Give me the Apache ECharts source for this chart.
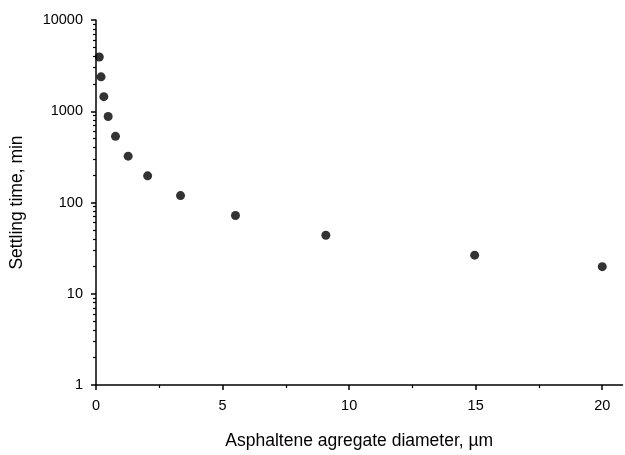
<!DOCTYPE html>
<html>
<head>
<meta charset="utf-8">
<script src="https://cdn.jsdelivr.net/npm/echarts@6/dist/echarts.min.js"></script>
<style>html,body{margin:0;padding:0;background:#fff}#c{width:625px;height:455px}</style>
</head>
<body>
<div id="c"></div>
<script>
// Data
const diameter = [0.13, 0.2, 0.31, 0.48, 0.77, 1.27, 2.04, 3.34, 5.51, 9.08, 14.96, 20.0];
const settlingTime = [3935, 2384, 1445, 877, 531, 322, 196, 119, 72, 43.7, 26.5, 19.8];
const xTickLabels = [0, 5, 10, 15, 20];
const xMinorTicks = [2.5, 7.5, 12.5, 17.5];
const yTickLabels = [1, 10, 100, 1000, 10000];
const yMinorTicks = [];
for (let d = 0; d < 4; d++) for (let k = 2; k <= 9; k++) yMinorTicks.push(k * Math.pow(10, d));

const font = 'Liberation Sans, Arial, sans-serif';
const chart = echarts.init(document.getElementById('c'), null, {renderer: 'canvas'});
const points = diameter.map((x, i) => [x, settlingTime[i]]);
chart.setOption({
  animation: false,
  backgroundColor: '#ffffff',
  grid: {left: 94.5, top: 20, width: 528, height: 368, containLabel: false},
  xAxis: [{
    type: 'value', min: 0, max: 20.8,
    name: 'Asphaltene agregate diameter, µm', nameLocation: 'middle', nameGap: 47,
    nameTextStyle: {fontFamily: font, fontSize: 17.5, color: '#000'},
    axisLine: {show: true, lineStyle: {color: '#000', width: 1.5}},
    axisTick: {show: true, inside: false, length: 5, lineStyle: {color: '#000', width: 1.5}, customValues: xTickLabels},
    axisLabel: {show: true, margin: 13, fontFamily: font, fontSize: 14.5, color: '#000', customValues: xTickLabels},
    splitLine: {show: false}
  }, {
    type: 'value', min: 0, max: 20.8, position: 'bottom',
    axisLine: {show: false},
    axisTick: {show: true, length: 3, lineStyle: {color: '#000', width: 1.2}, customValues: xMinorTicks},
    axisLabel: {show: false},
    splitLine: {show: false}
  }],
  yAxis: [{
    type: 'log', logBase: 10, min: 1, max: 10000,
    name: 'Settling time, min', nameLocation: 'middle', nameGap: 70, nameRotate: 90,
    nameTextStyle: {fontFamily: font, fontSize: 17.5, color: '#000'},
    axisLine: {show: true, lineStyle: {color: '#000', width: 1.5}},
    axisTick: {show: true, inside: false, length: 5, lineStyle: {color: '#000', width: 1.5}, customValues: yTickLabels},
    axisLabel: {show: true, margin: 13, fontFamily: font, fontSize: 14.5, color: '#000', customValues: yTickLabels,
      formatter: v => String(Math.round(v))},
    splitLine: {show: false}
  }, {
    type: 'log', logBase: 10, min: 1, max: 10000, position: 'left',
    axisLine: {show: false},
    axisTick: {show: true, length: 3, lineStyle: {color: '#000', width: 1.2}, customValues: yMinorTicks},
    axisLabel: {show: false},
    splitLine: {show: false}
  }],
  series: [{
    type: 'scatter', xAxisIndex: 0, yAxisIndex: 0,
    data: points, symbol: 'circle', symbolSize: 9,
    itemStyle: {color: '#000'}
  }]
});
</script>
</body>
</html>
